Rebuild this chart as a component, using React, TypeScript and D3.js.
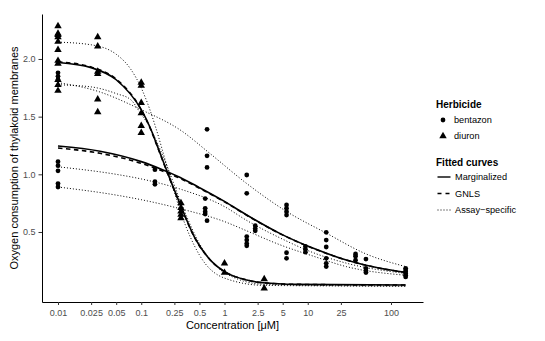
import React, { useRef, useEffect } from 'react';
import * as d3 from 'd3';

// Observed oxygen consumption (controls are drawn at 0.01 µM)
const bentazonDose = [
  0.01, 0.01, 0.01, 0.01, 0.01, 0.01, 0.01, 0.01,
  0.146, 0.146, 0.146,
  0.617, 0.617, 0.617, 0.586, 0.586, 0.586, 0.586, 0.617,
  1.85, 1.85, 1.85, 1.85, 1.85, 1.85,
  2.34, 2.34, 2.34,
  5.56, 5.56, 5.56, 5.56, 5.56, 5.56,
  9.375, 9.375, 9.375,
  16.67, 16.67, 16.67, 16.67, 16.67, 16.67,
  37.5, 37.5, 37.5,
  50, 50, 50, 50,
  150, 150, 150, 150, 150, 150,
];
const bentazonOxygen = [
  1.88, 1.85, 1.82, 1.11, 1.075, 1.03, 0.92, 0.89,
  1.04, 0.936, 0.913,
  1.39, 1.16, 1.06, 0.79, 0.705, 0.676, 0.656, 0.598,
  0.994, 0.835, 0.46, 0.43, 0.4, 0.38,
  0.555, 0.53, 0.51,
  0.734, 0.705, 0.676, 0.647, 0.32, 0.272,
  0.375, 0.35, 0.325,
  0.497, 0.43, 0.37, 0.272, 0.228, 0.2,
  0.31, 0.29, 0.255,
  0.265, 0.185, 0.165, 0.148,
  0.185, 0.17, 0.155, 0.14, 0.125, 0.11,
];

const diuronDose = [
  0.01, 0.01, 0.01, 0.01, 0.01, 0.01, 0.01, 0.01, 0.01, 0.01, 0.01,
  0.03, 0.03, 0.03, 0.03, 0.03, 0.03,
  0.1, 0.1, 0.1, 0.1, 0.1, 0.1,
  0.3, 0.3, 0.3, 0.3, 0.3,
  1, 1,
  3, 3,
];
const diuronOxygen = [
  2.286, 2.22, 2.21, 2.19, 2.15, 2.08, 1.985, 1.96, 1.82, 1.775, 1.725,
  2.19, 2.11, 1.89, 1.87, 1.65, 1.54,
  1.795, 1.77, 1.62, 1.53, 1.42, 1.36,
  0.75, 0.71, 0.68, 0.65, 0.62,
  0.228, 0.147,
  0.092, 0.011,
];

// Fitted curves
const bentazonFitDose = [0.01, 0.032, 0.1, 0.18, 0.29, 0.5, 1, 1.85, 4.6, 11.7, 29, 74, 150];
const bentazonMarginal = [1.245, 1.2, 1.11, 1.04, 0.975, 0.885, 0.765, 0.647, 0.488, 0.358, 0.257, 0.185, 0.15];
const bentazonGnls = [1.228, 1.182, 1.095, 1.028, 0.966, 0.879, 0.761, 0.645, 0.487, 0.357, 0.257, 0.185, 0.15];

const diuronFitDose = [0.01, 0.025, 0.05, 0.1, 0.127, 0.16, 0.22, 0.29, 0.44, 0.67, 1, 1.85, 2.9, 7.4, 150];
const diuronMarginal = [1.97, 1.925, 1.82, 1.56, 1.41, 1.225, 0.965, 0.75, 0.45, 0.26, 0.156, 0.083, 0.06, 0.046, 0.04];
const diuronGnls = [1.975, 1.93, 1.825, 1.56, 1.405, 1.22, 0.96, 0.745, 0.448, 0.26, 0.157, 0.084, 0.06, 0.046, 0.04];

// assay-specific curves
const diuronAssayDose = [0.01, 0.025, 0.05, 0.075, 0.1, 0.125, 0.15, 0.2, 0.3, 0.5, 1, 3, 150];
const diuronAssay1 = [2.146, 2.123, 2.041, 1.91, 1.749, 1.574, 1.401, 1.09, 0.664, 0.3, 0.1, 0.037, 0.03];
const diuronAssay2 = [1.776, 1.758, 1.7, 1.646, 1.519, 1.418, 1.299, 1.088, 0.755, 0.4, 0.147, 0.046, 0.03];

const bentazonAssay1Dose = [0.01, 0.03, 0.1, 0.3, 0.67, 1.85, 5.5, 16.7, 50, 150];
const bentazonAssay1 = [1.795, 1.72, 1.56, 1.38, 1.18, 0.92, 0.68, 0.49, 0.31, 0.2];
const bentazonAssayDose = [0.01, 0.05, 0.1, 0.3, 1, 1.85, 4.6, 11.7, 29, 150];
const bentazonAssay2 = [1.065, 1.0, 0.96, 0.87, 0.72, 0.6, 0.45, 0.32, 0.23, 0.14];
const bentazonAssay3 = [0.89, 0.82, 0.78, 0.7, 0.59, 0.51, 0.39, 0.29, 0.2, 0.125];

const xTicks = [0.01, 0.025, 0.05, 0.1, 0.25, 0.5, 1, 2.5, 5, 10, 25, 100];
const xTickLabels = ['0.01', '0.025', '0.05', '0.1', '0.25', '0.5', '1', '2.5', '5', '10', '25', '100'];
const yTicks = [0.5, 1.0, 1.5, 2.0];
const yTickLabels = ['0.5', '1.0', '1.5', '2.0'];

const font = '"Liberation Sans", Arial, Helvetica, sans-serif';

const App = () => {
  const ref = useRef<SVGSVGElement>(null);

  useEffect(() => {
    const width = 545;
    const height = 341;
    const panel = { left: 42, right: 423, top: 14, bottom: 302 };

    const svg = d3.select(ref.current);
    svg.selectAll('*').remove();
    svg.attr('width', width).attr('height', height);

    const x = d3.scaleLog()
      .domain([10 ** -2.1922, 10 ** 2.3844])
      .range([panel.left, panel.right]);
    const y = d3.scaleLinear()
      .domain([-0.107, 2.39])
      .range([panel.bottom, panel.top]);

    // axes
    const gx = svg.append('g')
      .attr('transform', `translate(0,${panel.bottom})`)
      .call(d3.axisBottom(x)
        .tickValues(xTicks)
        .tickFormat((d, i) => xTickLabels[i])
        .tickSize(3)
        .tickPadding(5)
        .tickSizeOuter(0));
    const gy = svg.append('g')
      .attr('transform', `translate(${panel.left},0)`)
      .call(d3.axisLeft(y)
        .tickValues(yTicks)
        .tickFormat((d, i) => yTickLabels[i])
        .tickSize(3.5)
        .tickPadding(3)
        .tickSizeOuter(0));
    [gx, gy].forEach(g => {
      g.attr('font-family', font).attr('font-size', 9);
      g.select('.domain').attr('stroke', '#000').attr('stroke-width', 1);
      g.selectAll('.tick line').attr('stroke', '#333').attr('stroke-width', 1);
      g.selectAll('.tick text').attr('fill', '#4D4D4D');
    });

    // axis titles
    svg.append('text')
      .attr('x', (panel.left + panel.right) / 2)
      .attr('y', 329)
      .attr('text-anchor', 'middle')
      .attr('font-family', font)
      .attr('font-size', 11)
      .text('Concentration [μM]');
    svg.append('text')
      .attr('transform', `translate(18,${(panel.top + panel.bottom) / 2}) rotate(-90)`)
      .attr('text-anchor', 'middle')
      .attr('font-family', font)
      .attr('font-size', 11)
      .text('Oxygen consumption of thylakoid membranes');

    // curves
    const line = d3.line<[number, number]>()
      .x(d => x(d[0]))
      .y(d => y(d[1]))
      .curve(d3.curveMonotoneX);

    const drawCurve = (dose: number[], fit: number[], dash: string | null, w: number) => {
      svg.append('path')
        .datum(d3.zip(dose, fit) as [number, number][])
        .attr('d', line)
        .attr('fill', 'none')
        .attr('stroke', '#000')
        .attr('stroke-width', w)
        .attr('stroke-dasharray', dash);
    };

    const dotted = '1 2';
    drawCurve(diuronAssayDose, diuronAssay1, dotted, 1);
    drawCurve(diuronAssayDose, diuronAssay2, dotted, 1);
    drawCurve(bentazonAssay1Dose, bentazonAssay1, dotted, 1);
    drawCurve(bentazonAssayDose, bentazonAssay2, dotted, 1);
    drawCurve(bentazonAssayDose, bentazonAssay3, dotted, 1);

    drawCurve(bentazonFitDose, bentazonGnls, '4.5 3.5', 1.6);
    drawCurve(diuronFitDose, diuronGnls, '4.5 3.5', 1.6);
    drawCurve(bentazonFitDose, bentazonMarginal, null, 1.6);
    drawCurve(diuronFitDose, diuronMarginal, null, 1.6);

    // points
    const circle = d3.symbol(d3.symbolCircle, 18)();
    const triangle = d3.symbol(d3.symbolTriangle, 24)();

    svg.append('g')
      .selectAll('path')
      .data(d3.zip(bentazonDose, bentazonOxygen))
      .join('path')
      .attr('transform', d => `translate(${x(d[0])},${y(d[1])})`)
      .attr('d', circle)
      .attr('fill', '#000');
    svg.append('g')
      .selectAll('path')
      .data(d3.zip(diuronDose, diuronOxygen))
      .join('path')
      .attr('transform', d => `translate(${x(d[0])},${y(d[1])})`)
      .attr('d', triangle)
      .attr('fill', '#000');

    // legend
    const legend = svg.append('g').attr('font-family', font);
    const lx = 436;
    legend.append('text')
      .attr('x', lx).attr('y', 104).attr('dy', '0.35em')
      .attr('font-size', 10).attr('font-weight', 'bold')
      .text('Herbicide');
    [['bentazon', circle, 120], ['diuron', triangle, 136]].forEach(([label, sym, ly]) => {
      legend.append('path')
        .attr('transform', `translate(${lx + 7},${ly})`)
        .attr('d', sym as string)
        .attr('fill', '#000');
      legend.append('text')
        .attr('x', lx + 18).attr('y', ly as number).attr('dy', '0.35em')
        .attr('font-size', 9.2)
        .text(label as string);
    });

    legend.append('text')
      .attr('x', lx).attr('y', 162).attr('dy', '0.35em')
      .attr('font-size', 10).attr('font-weight', 'bold')
      .text('Fitted curves');
    [['Marginalized', null, 1.4, 177], ['GNLS', '4 4', 1.4, 193.5], ['Assay−specific', dotted, 1, 210]]
      .forEach(([label, dash, w, ly]) => {
        legend.append('line')
          .attr('x1', lx + 1.5).attr('x2', lx + 14.5)
          .attr('y1', ly as number).attr('y2', ly as number)
          .attr('stroke', '#000')
          .attr('stroke-width', w as number)
          .attr('stroke-dasharray', dash as string | null);
        legend.append('text')
          .attr('x', lx + 19).attr('y', ly as number).attr('dy', '0.35em')
          .attr('font-size', 9.2)
          .text(label as string);
      });
  }, []);

  return (
    <svg ref={ref} style={{ position: 'absolute', left: 0, top: 0, background: '#fff' }}></svg>
  );
};

export default App;
